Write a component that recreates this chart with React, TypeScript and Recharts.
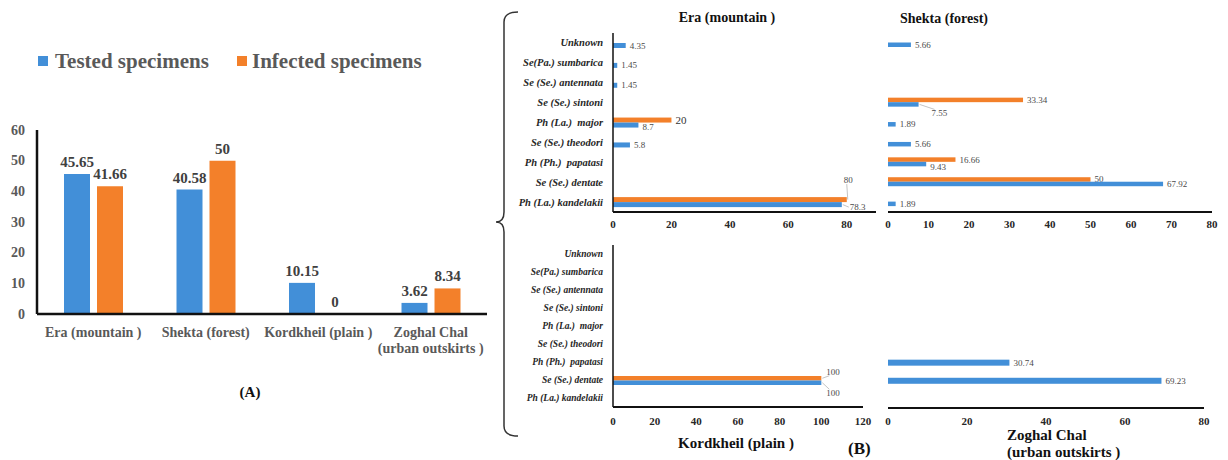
import React from 'react';
import { BarChart, Bar, XAxis, YAxis, LabelList } from 'recharts';

const W = 1228;
const H = 460;
const BLUE = '#428FD8';
const ORANGE = '#F3802A';
const FONT = "'Liberation Serif', 'DejaVu Serif', serif";

// ---- (A) overall infection by region ----
const regions = ['Era (mountain )', 'Shekta (forest)', 'Kordkheil (plain )', 'Zoghal Chal\n(urban outskirts )'];
const testedPct = [45.65, 40.58, 10.15, 3.62];
const infectedPct = [41.66, 50, 0, 8.34];
const pctTicks = [0, 10, 20, 30, 40, 50, 60];

// ---- (B) species composition per region ----
const species = [
  'Unknown',
  'Se(Pa.) sumbarica',
  'Se (Se.) antennata',
  'Se (Se.) sintoni',
  'Ph (La.)  major',
  'Se (Se.) theodori',
  'Ph (Ph.)  papatasi',
  'Se (Se.) dentate',
  'Ph (La.) kandelakii',
];
const eraTested = [4.35, 1.45, 1.45, null, 8.7, 5.8, null, null, 78.3];
const eraInfected = [null, null, null, null, 20, null, null, null, 80];
const shektaTested = [5.66, null, null, 7.55, 1.89, 5.66, 9.43, 67.92, 1.89];
const shektaInfected = [null, null, null, 33.34, null, null, 16.66, 50, null];
const kordTested = [null, null, null, null, null, null, null, 100, null];
const kordInfected = [null, null, null, null, null, null, null, 100, null];
const zoghalTested = [null, null, null, null, null, null, 30.74, 69.23, null];

const eraTicks = [0, 20, 40, 60, 80];
const shektaTicks = [0, 10, 20, 30, 40, 50, 60, 70, 80];
const kordTicks = [0, 20, 40, 60, 80, 100, 120];
const zoghalTicks = [0, 20, 40, 60, 80];

const regionRows = regions.map((r, i) => ({ region: r, tested: testedPct[i], infected: infectedPct[i] }));

const speciesRows = (tested: (number | null)[], infected?: (number | null)[]) =>
  species.map((s, i) => ({ species: s, tested: tested[i], infected: infected ? infected[i] : null }));

const txt = (extra: React.CSSProperties = {}): React.CSSProperties => ({ fontFamily: FONT, whiteSpace: 'pre', ...extra });

// Hand-placed data labels (offsets from the default spot right of the bar end)
type Nudge = { dx?: number; dy?: number; leader?: boolean; size?: number; fill?: string };
const labelNudges: Record<string, Nudge> = {
  'era|infected|Ph (La.) kandelakii': { dx: -7, dy: -19.5, leader: true },
  'era|tested|Ph (La.) kandelakii': { dx: 4, dy: 2.5, leader: true },
  'era|infected|Ph (La.)  major': { dx: 0, dy: 0, size: 11, fill: '#333' },
  'era|tested|Ph (La.)  major': { dy: 1.5 },
  'shekta|tested|Se (Se.) sintoni': { dx: 9, dy: 9, leader: true },
  'shekta|tested|Ph (Ph.)  papatasi': { dy: 3 },
  'kord|infected|Se (Se.) dentate': { dx: 1, dy: -6.5, leader: true },
  'kord|tested|Se (Se.) dentate': { dx: 1, dy: 10.5, leader: true },
};

const makeShape = (panel: string, series: 'tested' | 'infected', fill: string) => (p: any) => {
  const { x, y, width, height, payload } = p;
  const v = payload ? payload[series] : null;
  if (v == null || !(width > 0)) return <g />;
  const n = labelNudges[`${panel}|${series}|${payload.species}`] || {};
  const endX = x + width;
  const cy = y + height / 2;
  const lx = endX + 4 + (n.dx || 0);
  const ly = cy + (n.dy || 0);
  return (
    <g>
      <rect x={x} y={y} width={width} height={height} fill={fill} />
      {n.leader && (
        <line
          x1={endX + 1}
          y1={cy}
          x2={lx + (Math.abs(n.dy || 0) > 5 ? 3 : -1)}
          y2={ly + ((n.dy || 0) > 5 ? -4 : (n.dy || 0) < -5 ? 4 : 0)}
          stroke="#aaa"
          strokeWidth={0.7}
        />
      )}
      <text
        x={lx}
        y={ly}
        dominantBaseline="central"
        textAnchor="start"
        fontSize={n.size || 9}
        fill={n.fill || '#4a4a4a'}
        style={txt()}
      >
        {String(v)}
      </text>
    </g>
  );
};

// value labels above the columns of (A)
const ColumnLabel = (p: any) => {
  const vb = p.viewBox || p;
  const { x, y, width } = vb;
  if (p.value == null) return null;
  return (
    <text
      x={x + width / 2}
      y={y - 7}
      textAnchor="middle"
      fontSize={15}
      fontWeight={700}
      fill="#404040"
      style={txt()}
    >
      {String(p.value)}
    </text>
  );
};

const RegionTick = (p: any) => {
  const lines = String(p.payload.value).split('\n');
  return (
    <text x={p.x} y={p.y} textAnchor="middle" fontSize={14} fontWeight={700} fill="#595959" style={txt()}>
      {lines.map((l, i) => (
        <tspan key={i} x={p.x} dy={i === 0 ? 23 : 16}>
          {l}
        </tspan>
      ))}
    </text>
  );
};

const PctTick = (p: any) => (
  <text x={p.x} y={p.y} textAnchor="end" dominantBaseline="central" fontSize={14} fontWeight={700} fill="#595959" style={txt()}>
    {p.payload.value}
  </text>
);

const NumTick = (p: any) => (
  <text x={p.x} y={p.y + 4} textAnchor="middle" dominantBaseline="central" fontSize={11} fontWeight={700} fill="#262626" style={txt()}>
    {p.payload.value}
  </text>
);

const SpeciesTick = (p: any) => (
  <text
    x={p.x}
    y={p.y}
    textAnchor="end"
    dominantBaseline="central"
    fontSize={p.fs}
    fontWeight={700}
    fill="#262626"
    style={txt({ fontStyle: 'italic' })}
  >
    {p.payload.value}
  </text>
);

const xLine = { stroke: '#111', strokeWidth: 2 };
const yLine = { stroke: '#111', strokeWidth: 1.5 };

const Layer = ({ children }: { children: React.ReactNode }) => (
  <div style={{ position: 'absolute', left: 0, top: 0 }}>{children}</div>
);

const zeroFloor = (v: any) => (v === 0 ? 0.4 : 0);

export default function App() {
  return (
    <div
      style={{
        position: 'absolute',
        left: 0,
        top: 0,
        width: W,
        height: H,
        background: '#fff',
        fontFamily: FONT,
        overflow: 'hidden',
      }}
    >
      {/* (A) grouped columns */}
      <Layer>
        <BarChart
          width={W}
          height={H}
          data={regionRows}
          margin={{ top: 130, right: W - 487, bottom: H - 314 - 30, left: 7 }}
          barGap={7}
        >
          <XAxis
            dataKey="region"
            height={30}
            tick={<RegionTick />}
            tickLine={false}
            tickSize={0}
            tickMargin={0}
            axisLine={{ stroke: '#111', strokeWidth: 2.5 }}
            interval={0}
          />
          <YAxis
            width={30}
            domain={[0, 60]}
            ticks={pctTicks}
            interval={0}
            tickLine={false}
            tickSize={0}
            tickMargin={12}
            axisLine={{ stroke: '#111', strokeWidth: 2.5 }}
            tick={<PctTick />}
          />
          <Bar dataKey="tested" fill={BLUE} barSize={26} minPointSize={zeroFloor} isAnimationActive={false}>
            <LabelList dataKey="tested" content={<ColumnLabel />} />
          </Bar>
          <Bar dataKey="infected" fill={ORANGE} barSize={26} minPointSize={zeroFloor} isAnimationActive={false}>
            <LabelList dataKey="infected" content={<ColumnLabel />} />
          </Bar>
        </BarChart>
      </Layer>

      {/* (B) Era (mountain) */}
      <Layer>
        <BarChart
          width={W}
          height={H}
          layout="vertical"
          data={speciesRows(eraTested, eraInfected)}
          margin={{ top: 33, right: W - 876, bottom: H - 212 - 20, left: 613 - 120 }}
          barGap={0}
        >
          <XAxis type="number" domain={[0, 90]} ticks={eraTicks} height={20} tickLine={false} tickSize={0} tickMargin={8} axisLine={xLine} tick={<NumTick />} />
          <YAxis type="category" dataKey="species" width={120} interval={0} tickLine={false} tickSize={0} tickMargin={10} axisLine={yLine} tick={<SpeciesTick fs={10.5} />} />
          <Bar dataKey="infected" barSize={5} fill={ORANGE} isAnimationActive={false} shape={makeShape('era', 'infected', ORANGE)} />
          <Bar dataKey="tested" barSize={5} fill={BLUE} isAnimationActive={false} shape={makeShape('era', 'tested', BLUE)} />
        </BarChart>
      </Layer>

      {/* (B) Shekta (forest) */}
      <Layer>
        <BarChart
          width={W}
          height={H}
          layout="vertical"
          data={speciesRows(shektaTested, shektaInfected)}
          margin={{ top: 33, right: W - 1212, bottom: H - 212 - 20, left: 888 }}
          barGap={0}
        >
          <XAxis type="number" domain={[0, 80]} ticks={shektaTicks} height={20} tickLine={false} tickSize={0} tickMargin={8} axisLine={xLine} tick={<NumTick />} />
          <YAxis type="category" dataKey="species" hide />
          <Bar dataKey="infected" barSize={4.5} fill={ORANGE} isAnimationActive={false} shape={makeShape('shekta', 'infected', ORANGE)} />
          <Bar dataKey="tested" barSize={4.5} fill={BLUE} isAnimationActive={false} shape={makeShape('shekta', 'tested', BLUE)} />
        </BarChart>
      </Layer>

      {/* (B) Kordkheil (plain) */}
      <Layer>
        <BarChart
          width={W}
          height={H}
          layout="vertical"
          data={speciesRows(kordTested, kordInfected)}
          margin={{ top: 245, right: W - 863, bottom: H - 407 - 20, left: 613 - 120 }}
          barGap={0}
        >
          <XAxis type="number" domain={[0, 120]} ticks={kordTicks} height={20} tickLine={false} tickSize={0} tickMargin={10} axisLine={xLine} tick={<NumTick />} />
          <YAxis type="category" dataKey="species" width={120} interval={0} tickLine={false} tickSize={0} tickMargin={10} axisLine={yLine} tick={<SpeciesTick fs={9.5} />} />
          <Bar dataKey="infected" barSize={4.5} fill={ORANGE} isAnimationActive={false} shape={makeShape('kord', 'infected', ORANGE)} />
          <Bar dataKey="tested" barSize={4.5} fill={BLUE} isAnimationActive={false} shape={makeShape('kord', 'tested', BLUE)} />
        </BarChart>
      </Layer>

      {/* (B) Zoghal Chal (urban outskirts) */}
      <Layer>
        <BarChart
          width={W}
          height={H}
          layout="vertical"
          data={speciesRows(zoghalTested)}
          margin={{ top: 245, right: W - 1204, bottom: H - 408 - 20, left: 888 }}
        >
          <XAxis type="number" domain={[0, 80]} ticks={zoghalTicks} height={20} tickLine={false} tickSize={0} tickMargin={9} axisLine={xLine} tick={<NumTick />} />
          <YAxis type="category" dataKey="species" hide />
          <Bar dataKey="tested" barSize={6} fill={BLUE} isAnimationActive={false} shape={makeShape('zoghal', 'tested', BLUE)} />
        </BarChart>
      </Layer>

      {/* titles, legend and brace */}
      <svg width={W} height={H} style={{ position: 'absolute', left: 0, top: 0, fontFamily: FONT }}>
        <rect x={38} y={56} width={10} height={10} fill={BLUE} />
        <text x={55} y={61} dominantBaseline="central" fontSize={21} fontWeight={700} fill="#595959" style={txt()}>
          Tested specimens
        </text>
        <rect x={237} y={56} width={10} height={10} fill={ORANGE} />
        <text x={252} y={61} dominantBaseline="central" fontSize={21} fontWeight={700} fill="#595959" style={txt()}>
          Infected specimens
        </text>
        <text x={250} y={392} textAnchor="middle" dominantBaseline="central" fontSize={15} fontWeight={700} fill="#111" style={txt()}>
          (A)
        </text>

        <path
          d="M 518 12 Q 504 12 504 22 L 504 212 Q 504 222 496 222 Q 504 222 504 232 L 504 426 Q 504 436 518 436"
          fill="none"
          stroke="#333"
          strokeWidth={1.5}
        />

        <text x={727} y={17} textAnchor="middle" dominantBaseline="central" fontSize={14} fontWeight={700} fill="#111" style={txt()}>
          Era (mountain )
        </text>
        <text x={900} y={18} dominantBaseline="central" fontSize={14} fontWeight={700} fill="#111" style={txt()}>
          Shekta (forest)
        </text>
        <text x={736} y={443} textAnchor="middle" dominantBaseline="central" fontSize={15} fontWeight={700} fill="#111" style={txt()}>
          Kordkheil (plain )
        </text>
        <text x={848} y={448} dominantBaseline="central" fontSize={17} fontWeight={700} fill="#111" style={txt()}>
          (B)
        </text>
        <text x={1007} y={435} dominantBaseline="central" fontSize={15} fontWeight={700} fill="#111" style={txt()}>
          Zoghal Chal
        </text>
        <text x={1007} y={452} dominantBaseline="central" fontSize={15} fontWeight={700} fill="#111" style={txt()}>
          (urban outskirts )
        </text>
      </svg>
    </div>
  );
}
